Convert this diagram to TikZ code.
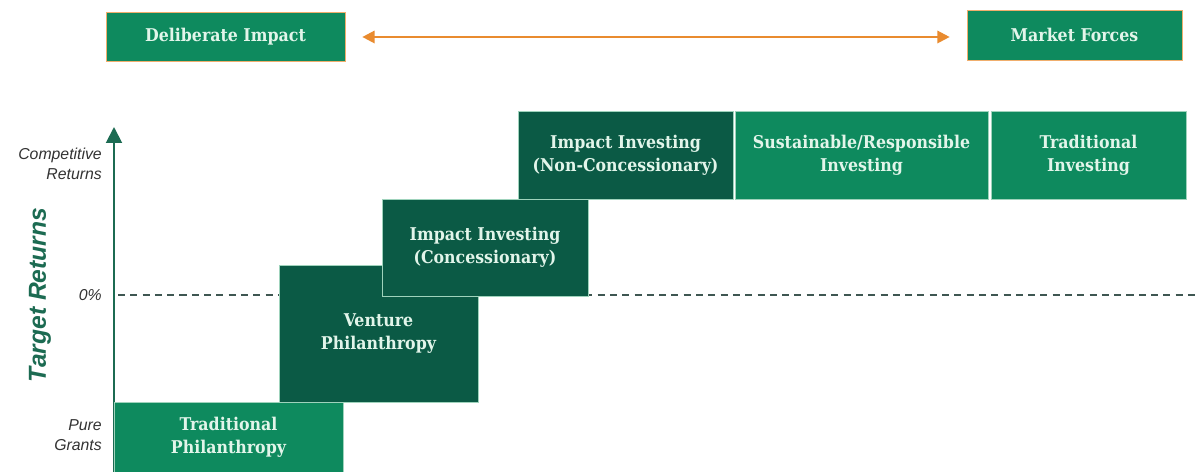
\documentclass[tikz,border=0pt]{standalone}
\usepackage{fontspec}
\usepackage{tikz}
\usetikzlibrary{arrows.meta, positioning}
\newfontfamily\slabfont{DejaVu Serif Condensed}
\newfontfamily\axisfont{Liberation Sans}
\definecolor{midgreen}{HTML}{0E8A5E}
\definecolor{darkgreen}{HTML}{0B5A45}
\definecolor{boxtext}{HTML}{E2F5EA}
\definecolor{boxline}{HTML}{9FD3BC}
\definecolor{axisgreen}{HTML}{1C6B52}
\definecolor{arrorange}{HTML}{E98B2F}
\definecolor{dashgray}{HTML}{3F5752}
\tikzset{
  pbox/.style={rectangle, draw=boxline, line width=0.4pt, text=boxtext, align=center, inner sep=0pt,
    font=\slabfont\bfseries\fontsize{10}{13}\selectfont},
  topbox/.style={pbox, fill=midgreen, draw=arrorange!70},
  ylab/.style={anchor=east, align=right, text=black!80, font=\axisfont\itshape\fontsize{9}{11}\selectfont}
}

\begin{document}
\begin{tikzpicture}[x=0.02cm, y=-0.02cm]
  \useasboundingbox[fill=white] (0,0) rectangle (1198,472);

  % top scale
  \node[topbox, minimum width=4.78cm, minimum height=0.98cm] (di) at (225.5,37) {Deliberate Impact};
  \node[topbox, minimum width=4.3cm, minimum height=1.0cm] (mf) at (1074.5,35) {Market Forces};
  \draw[arrorange, line width=1.3pt, {Triangle[length=7pt,width=7pt]}-{Triangle[length=7pt,width=7pt]},
    shorten <=0.34cm, shorten >=0.34cm] (di.east) -- (di.east -| mf.west);

  % axis and zero line
  \coordinate (o) at (114,472);
  \coordinate (top) at (114,127);
  \coordinate (zero) at (118,295);
  \coordinate (zeroend) at (1198,295);
  \draw[dashgray, line width=0.9pt, dash pattern=on 4pt off 3pt] (zero) -- (zeroend);
  \draw[axisgreen, line width=1.1pt, -{Triangle[length=9pt,width=9pt]}] (o) -- (top);

  \node[ylab] (comp) at (108,164) {Competitive\\Returns};
  \node[ylab] (zlab) at (108,295) {0\%};
  \node[ylab] (pure) at (108,435) {Pure\\Grants};
  \node[rotate=90, text=axisgreen, font=\axisfont\bfseries\itshape\fontsize{14}{16}\selectfont] (tr) at (40,295) {Target Returns};

  % steps
  \node[pbox, fill=midgreen, minimum width=4.58cm, minimum height=1.4cm] (tp) at (228.5,437) {Traditional\\Philanthropy};
  \node[pbox, fill=darkgreen, minimum width=3.98cm, minimum height=2.74cm] (vp) at (378.5,333.5) {Venture\\Philanthropy};
  \node[pbox, fill=darkgreen, minimum width=4.12cm, minimum height=1.94cm] (ic) at (485,247.5) {Impact Investing\\(Concessionary)};
  \node[pbox, fill=darkgreen, minimum width=4.3cm, minimum height=1.76cm] (inc) at (625.5,155) {Impact Investing\\(Non-Concessionary)};
  \node[pbox, fill=midgreen, minimum width=5.06cm, minimum height=1.76cm] (sr) at (861.5,155) {Sustainable/Responsible\\Investing};
  \node[pbox, fill=midgreen, minimum width=3.9cm, minimum height=1.76cm] (ti) at (1088.5,155) {Traditional\\Investing};
\end{tikzpicture}
\end{document}
